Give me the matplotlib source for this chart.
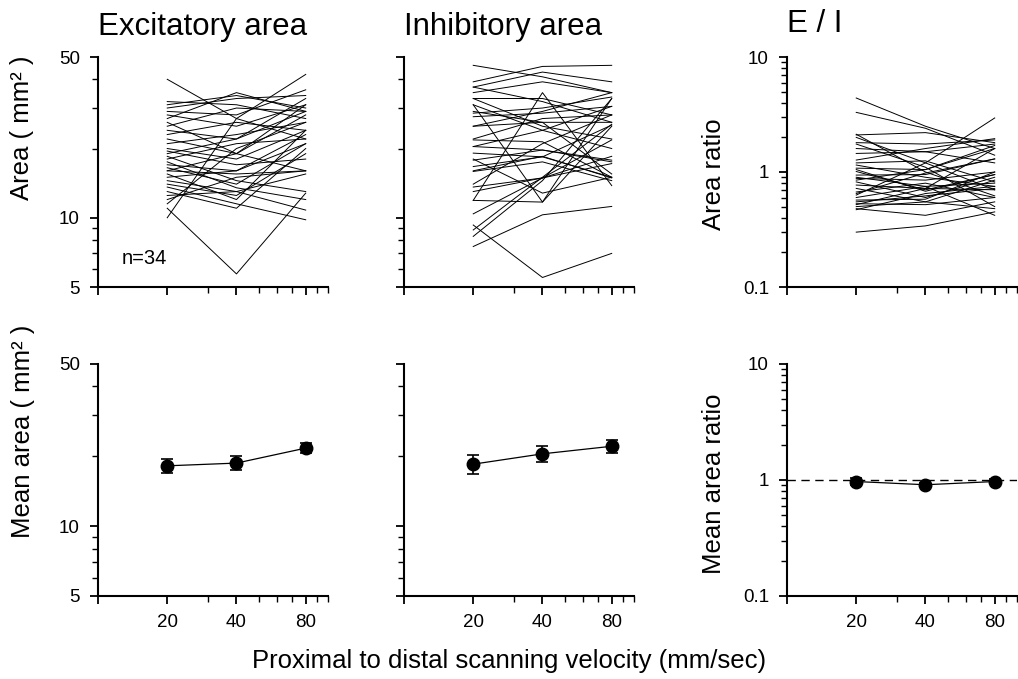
import matplotlib
matplotlib.use("Agg")
import matplotlib.pyplot as plt
from matplotlib.ticker import FixedLocator, FuncFormatter, NullFormatter

plt.rcParams['font.family'] = ['Liberation Sans', 'DejaVu Sans']

# scanning velocities (mm/sec)
velocity = [20, 40, 80]

# individual cells (n=34), area in mm^2 at 20, 40, 80 mm/sec
exc_area = [
    [40, 27, 22], [10, 27, 42], [11, 5.7, 12.8], [13.6, 11.5, 9.8],
    [31, 34, 30], [32, 31, 27], [30, 33, 34], [29, 28, 36],
    [28, 25, 31], [25, 30, 29], [24, 22, 33], [26, 19, 28],
    [19, 22, 29], [20, 18, 24], [18, 21, 22], [17, 16, 23],
    [16.5, 14, 21], [16, 15.5, 16], [15, 16, 21], [14.5, 13, 15.5],
    [15.5, 12, 24], [14, 12.5, 19], [13, 11, 20], [12, 15, 16],
    [12.5, 13, 10.8], [11.5, 20, 26], [17.5, 13.5, 12], [18.5, 14.5, 13],
    [22, 19, 16], [21, 23, 26], [23, 26, 24], [27, 35, 29],
    [19.5, 17, 18], [16, 19, 31],
]
inh_area = [
    [46, 41, 35], [39, 45.5, 46], [37, 43, 39], [35, 39, 35],
    [33, 33, 28], [31, 11.7, 33], [11.9, 35, 13.8], [9.3, 5.5, 7.0],
    [7.5, 10.3, 11.2], [8.85, 15, 25.5], [8.3, 14.5, 33], [28.5, 30, 33.5],
    [27.5, 28.5, 30.5], [25, 29, 35], [25, 26, 26], [22, 27, 28],
    [21.8, 21.4, 15], [20.4, 19.7, 17.5], [19.1, 18.4, 15], [17.8, 19.7, 17.8],
    [16.7, 18.4, 25.3], [16, 18.5, 14.9], [15.9, 17.5, 14.5], [13.6, 14.9, 18.5],
    [13, 14.9, 17.2], [11.9, 11.7, 25], [10.4, 14.9, 21.8], [33, 25, 22],
    [31, 24, 20], [37, 32, 26], [20.4, 24, 30.5], [18, 12.8, 15],
    [29, 26, 15.5], [14, 21, 28],
]
ei_ratio = [
    [4.4, 2.5, 1.6], [3.3, 2.4, 1.4], [0.30, 0.34, 0.45], [0.48, 0.42, 0.55],
    [2.1, 2.2, 1.8], [2.0, 1.2, 0.7], [1.8, 1.75, 1.9], [1.75, 1.1, 0.5],
    [0.63, 1.2, 2.95], [1.45, 1.5, 1.2], [1.27, 1.6, 1.95], [1.15, 0.9, 0.75],
    [1.08, 1.05, 1.6], [1.01, 0.7, 0.95], [0.94, 0.95, 1.3], [0.88, 0.85, 1.0],
    [0.82, 0.6, 0.9], [0.77, 0.72, 0.7], [0.72, 0.55, 0.85], [0.67, 0.8, 0.6],
    [0.57, 0.58, 1.0], [0.53, 0.52, 0.6], [0.50, 0.55, 0.48], [0.47, 0.65, 0.75],
    [2.13, 1.0, 0.62], [1.6, 1.5, 1.75], [0.9, 0.75, 0.42], [1.2, 1.25, 0.82],
    [0.52, 0.72, 1.6], [0.6, 0.75, 0.8], [0.55, 0.62, 0.72], [0.85, 1.05, 1.7],
    [1.05, 0.68, 0.95], [0.65, 0.98, 1.3],
]

# population means and s.e.m.
exc_mean = [18.2, 18.7, 21.7]
exc_sem = [1.2, 1.3, 1.1]
inh_mean = [18.5, 20.5, 22.1]
inh_sem = [1.7, 1.6, 1.5]
ratio_mean = [0.97, 0.91, 0.97]
ratio_sem = [0.07, 0.04, 0.05]

W, H = 1018, 679
fig = plt.figure(figsize=(W / 100, H / 100), dpi=100)


def add_axes_px(left, top, right, bottom):
    return fig.add_axes([left / W, 1 - bottom / H, (right - left) / W, (bottom - top) / H])


def style_axes(ax, ylim, ymajor, yminor, ylabels=True, xlabels=True):
    ax.set_xscale('log')
    ax.set_yscale('log')
    ax.set_xlim(10, 100)
    ax.set_ylim(*ylim)
    for side in ['top', 'right']:
        ax.spines[side].set_visible(False)
    for side in ['left', 'bottom']:
        ax.spines[side].set_linewidth(1.5)
    ax.xaxis.set_major_locator(FixedLocator([10, 20, 40, 80]))
    ax.xaxis.set_minor_locator(FixedLocator([30, 50, 60, 70, 90, 100]))
    ax.yaxis.set_major_locator(FixedLocator(ymajor))
    ax.yaxis.set_minor_locator(FixedLocator(yminor))
    ax.xaxis.set_minor_formatter(NullFormatter())
    ax.yaxis.set_minor_formatter(NullFormatter())
    if xlabels:
        ax.xaxis.set_major_formatter(FuncFormatter(lambda v, p: '' if v == 10 else '%g' % v))
    else:
        ax.xaxis.set_major_formatter(NullFormatter())
    if ylabels:
        ax.yaxis.set_major_formatter(FuncFormatter(lambda v, p: '%g' % v))
    else:
        ax.yaxis.set_major_formatter(NullFormatter())
    ax.tick_params(which='major', direction='out', length=6, width=1.3,
                   labelsize=13.5, pad=7, color='k')
    ax.tick_params(which='minor', direction='out', length=4, width=1.0, color='k')


area_lim = (5, 50)
area_major = [5, 10, 50]
area_minor = [6, 7, 8, 9, 20, 30, 40]
ratio_lim = (0.1, 10)
ratio_major = [0.1, 1, 10]
ratio_minor = [0.2, 0.3, 0.4, 0.5, 0.6, 0.7, 0.8, 0.9, 2, 3, 4, 5, 6, 7, 8, 9]

cols = [(98, 328), (404, 634), (787, 1017)]
top_row = (57, 287)
bot_row = (364, 596)

# top row: individual cells
ax1 = add_axes_px(cols[0][0], top_row[0], cols[0][1], top_row[1])
ax2 = add_axes_px(cols[1][0], top_row[0], cols[1][1], top_row[1])
ax3 = add_axes_px(cols[2][0], top_row[0], cols[2][1], top_row[1])
for ax, data in [(ax1, exc_area), (ax2, inh_area), (ax3, ei_ratio)]:
    for row in data:
        ax.plot(velocity, row, color='k', lw=0.7)
style_axes(ax1, area_lim, area_major, area_minor, xlabels=False)
style_axes(ax2, area_lim, area_major, area_minor, ylabels=False, xlabels=False)
style_axes(ax3, ratio_lim, ratio_major, ratio_minor, xlabels=False)

ax1.set_title('Excitatory area', loc='left', fontsize=22.5, pad=16)
ax2.set_title('Inhibitory area', loc='left', fontsize=22.5, pad=16)
ax3.set_title('E / I', loc='left', fontsize=22.5, pad=18)
ax1.text(0.104, 0.126, 'n=34', transform=ax1.transAxes, fontsize=14.5,
         ha='left', va='center')

# bottom row: means
ax4 = add_axes_px(cols[0][0], bot_row[0], cols[0][1], bot_row[1])
ax5 = add_axes_px(cols[1][0], bot_row[0], cols[1][1], bot_row[1])
ax6 = add_axes_px(cols[2][0], bot_row[0], cols[2][1], bot_row[1])
ax6.axhline(1, color='k', lw=1.0, ls=(0, (6, 4)))
for ax, m, e in [(ax4, exc_mean, exc_sem), (ax5, inh_mean, inh_sem), (ax6, ratio_mean, ratio_sem)]:
    ax.errorbar(velocity, m, yerr=e, color='k', lw=0.9, marker='o', ms=9,
                capsize=4, capthick=1.2, elinewidth=1.2)
style_axes(ax4, area_lim, area_major, area_minor)
style_axes(ax5, area_lim, area_major, area_minor, ylabels=False)
style_axes(ax6, ratio_lim, ratio_major, ratio_minor)

# y labels
ylab = [
    (ax1, 'Area ( mm\u00b2 )', -0.330, 0.691),
    (ax3, 'Area ratio', -0.317, 0.491),
    (ax4, 'Mean area ( mm\u00b2 )', -0.326, 0.711),
    (ax6, 'Mean area ratio', -0.317, 0.483),
]
for ax, txt, x, y in ylab:
    ax.set_ylabel(txt, fontsize=18.5)
    ax.yaxis.label.set_verticalalignment('center')
    ax.yaxis.set_label_coords(x, y)

fig.text(509 / W, 1 - 668 / H, 'Proximal to distal scanning velocity (mm/sec)',
         ha='center', va='baseline', fontsize=18.5)

fig.savefig('out.png', dpi=100)
